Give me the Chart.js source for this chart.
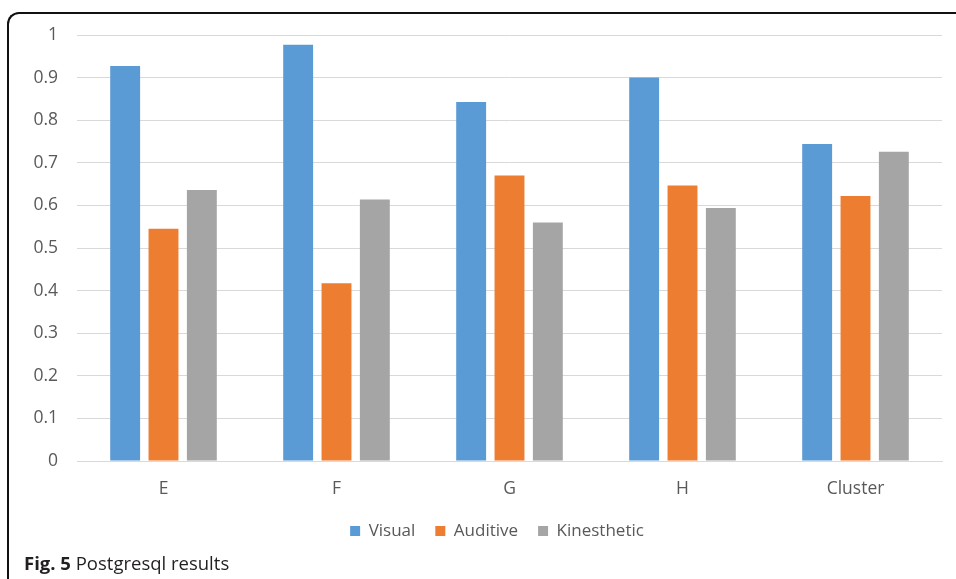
<!DOCTYPE html>
<html>
<head>
<meta charset="utf-8">
<script src="https://cdn.jsdelivr.net/npm/chart.js@4.4.1/dist/chart.umd.min.js"></script>
<style>
  html, body { margin: 0; padding: 0; background: #fff; overflow: hidden; }
  #wrap { position: absolute; left: 0; top: 0; width: 956px; height: 579px; }
  #frame { position: absolute; left: 7px; top: 12px; width: 1000px; height: 700px;
           border-top: 2px solid #111; border-left: 2px solid #111; border-top-left-radius: 12px; }
  #cv { position: absolute; left: 0; top: 0; }
  #caption { position: absolute; left: 24px; top: 551px; font-family: "Open Sans", sans-serif;
             font-size: 18.5px; color: #231f20; white-space: nowrap; line-height: 24px; }
  #caption b { font-weight: 700; }
</style>
</head>
<body>
<div id="wrap">
  <div id="frame"></div>
  <canvas id="cv" width="956" height="579"></canvas>
  <div id="caption"><b>Fig. 5</b> Postgresql results</div>
</div>
<script>
const categories = ['E', 'F', 'G', 'H', 'Cluster'];
const seriesNames = ['Visual', 'Auditive', 'Kinesthetic'];
const visual = [0.927, 0.977, 0.843, 0.900, 0.744];
const auditive = [0.545, 0.417, 0.670, 0.647, 0.622];
const kinesthetic = [0.636, 0.614, 0.560, 0.594, 0.726];
const yTickLabels = ['0', '0.1', '0.2', '0.3', '0.4', '0.5', '0.6', '0.7', '0.8', '0.9', '1'];

const colors = ['#5B9BD5', '#ED7D31', '#A5A5A5'];
const FONT = '"Open Sans", sans-serif';
const TXT = '#595959';
const TICK_SIZE = 17.5;

// widest y tick label, used to right-align the mirrored labels left of the plot
const mctx = document.createElement('canvas').getContext('2d');
mctx.font = TICK_SIZE + 'px ' + FONT;
const widestY = Math.max(...yTickLabels.map(t => mctx.measureText(t).width));

const ds = [visual, auditive, kinesthetic].map((d, i) => ({
  label: seriesNames[i],
  data: d,
  backgroundColor: colors[i],
  borderWidth: 0,
  categoryPercentage: 0.665,
  barPercentage: 0.78
}));

new Chart(document.getElementById('cv'), {
  type: 'bar',
  data: { labels: categories, datasets: ds },
  options: {
    responsive: false,
    devicePixelRatio: 1,
    animation: false,
    layout: { padding: { left: 52, right: 14, top: 35, bottom: 29.5 } },
    plugins: {
      tooltip: { enabled: false },
      legend: {
        position: 'bottom',
        labels: {
          boxWidth: 10, boxHeight: 10, padding: 20,
          color: TXT, font: { family: FONT, size: 17 }
        }
      }
    },
    scales: {
      x: {
        afterFit: (s) => { s.height = 41.5; },
        grid: { display: false, drawTicks: false },
        border: { display: true, color: '#D9D9D9', width: 1 },
        ticks: { color: TXT, font: { family: FONT, size: TICK_SIZE }, padding: 18 }
      },
      y: {
        min: 0, max: 1,
        afterFit: (s) => { s.width = 25; },
        grid: { color: '#D9D9D9', lineWidth: 1, drawTicks: false },
        border: { display: false },
        ticks: {
          stepSize: 0.1, mirror: true, crossAlign: 'far',
          padding: -19 - widestY, color: TXT,
          font: { family: FONT, size: TICK_SIZE },
          callback: (v) => yTickLabels[Math.round(v * 10)]
        }
      }
    }
  }
});
</script>
</body>
</html>
